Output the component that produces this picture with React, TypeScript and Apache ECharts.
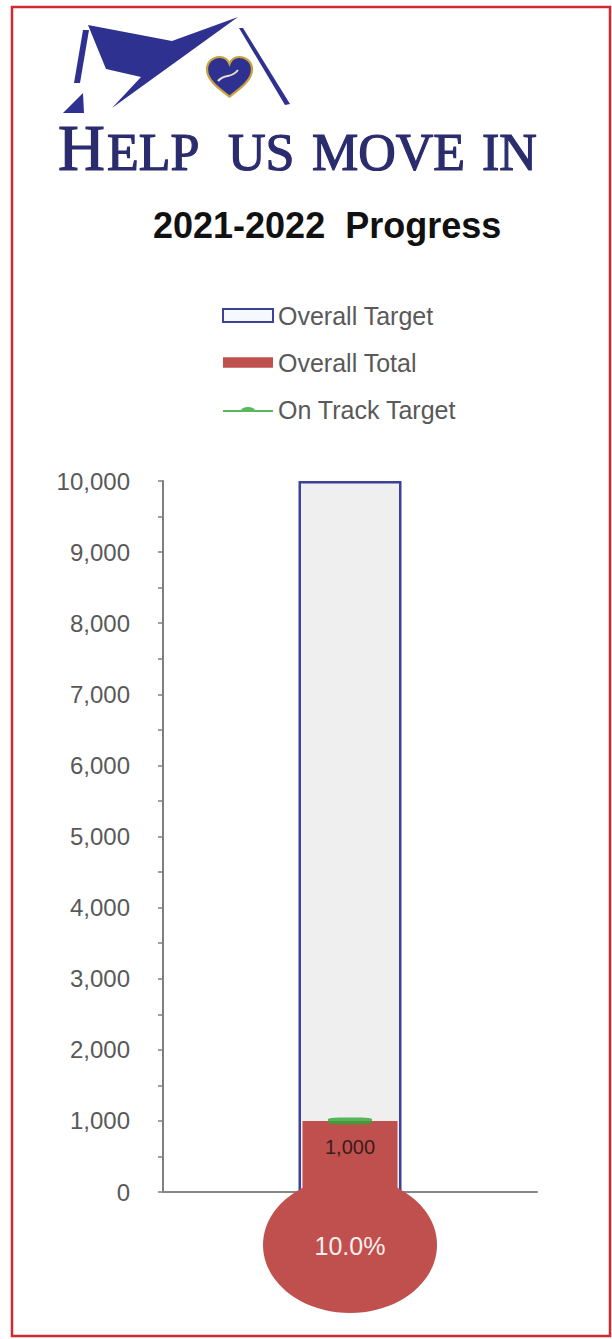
import React, { useEffect, useRef } from "react";
import * as echarts from "echarts";

// ---- data ----
const categories = ["2021-2022"];
const overallTarget = [10000];
const overallTotal = [1000];
const onTrackTarget = [1000];
const yTickValues = [0, 1000, 2000, 3000, 4000, 5000, 6000, 7000, 8000, 9000, 10000];
const legendNames = ["Overall Target", "Overall Total", "On Track Target"];
const titleText = "2021-2022  Progress";
const brandWords = [
  { big: "H", small: "ELP" },
  { big: "", small: "US" },
  { big: "", small: "MOVE" },
  { big: "", small: "IN" },
];

const SANS = '"Liberation Sans", Arial, sans-serif';
const SERIF = '"Liberation Serif", "DejaVu Serif", serif';
const NAVY = "#2f3190";
const TEXT_NAVY = "#2a2c6e";
const RED = "#c0504d";
const BLUE = "#3c4299";
const GREEN = "#2fa634";

const HEART =
  "M50,92 C22,70 0,52 0,29 C0,11 14,0 28,0 C40,0 47,8 50,16 C53,8 60,0 72,0 C86,0 100,11 100,29 C100,52 78,70 50,92 Z";

let registered = false;
function registerShapes() {
  if (registered) return;
  registered = true;
  echarts.graphic.registerShape("heart", echarts.graphic.extendPath(HEART, {}) as any);
}

function fmt(v: number) {
  return v.toLocaleString("en-US");
}

function staticGraphics(): any[] {
  const wordX = [58, 228, 312, 482];
  const bigF = 65;
  const smallF = 52;
  const base = 170;
  const texts: any[] = [];
  brandWords.forEach((w, i) => {
    let x = wordX[i];
    if (w.big) {
      texts.push({
        type: "text",
        x,
        y: base - 0.3375 * bigF,
        style: {
          text: w.big, fontSize: bigF, fontFamily: SERIF, fill: TEXT_NAVY,
          stroke: TEXT_NAVY, lineWidth: 1.2, verticalAlign: "middle", align: "left",
        },
        z: 10,
      });
      x += 49;
    }
    texts.push({
      type: "text",
      x,
      y: base - 0.3375 * smallF,
      style: {
        text: w.small, fontSize: smallF, fontFamily: SERIF, fill: TEXT_NAVY,
        stroke: TEXT_NAVY, lineWidth: 1.2, verticalAlign: "middle", align: "left",
      },
      z: 10,
    });
  });
  return [
    {
      type: "rect",
      shape: { x: 12, y: 7, width: 598, height: 1329 },
      style: { fill: "none", stroke: "#d3282f", lineWidth: 2.5 },
      z: 20,
    },
    // logo
    { type: "polygon", shape: { points: [[83, 30], [89, 30], [80, 83], [74, 83]] }, style: { fill: NAVY }, z: 10 },
    { type: "polygon", shape: { points: [[63, 113], [83, 93], [84, 113]] }, style: { fill: NAVY }, z: 10 },
    {
      type: "polygon",
      shape: { points: [[88, 25], [172, 41], [238, 17], [112, 108], [141, 77], [106, 69]] },
      style: { fill: NAVY },
      z: 10,
    },
    {
      type: "polygon",
      shape: { points: [[239, 28], [243, 28], [290, 104], [285, 105]] },
      style: { fill: NAVY },
      z: 10,
    },
    {
      type: "heart",
      x: 207,
      y: 57,
      scaleX: 0.45,
      scaleY: 0.43,
      style: { fill: NAVY, stroke: "#c9a23a", lineWidth: 5 },
      z: 11,
    },
    {
      type: "bezierCurve",
      shape: { x1: 218, y1: 81, x2: 238, y2: 70, cpx1: 226, cpy1: 72, cpx2: 230, cpy2: 80 },
      style: { stroke: "#e8e2d0", lineWidth: 2, fill: "none" },
      z: 12,
    },
    ...texts,
  ];
}

export default function App() {
  const ref = useRef<HTMLDivElement>(null);
  useEffect(() => {
    if (!ref.current) return;
    registerShapes();
    const chart = echarts.init(ref.current, undefined, { renderer: "svg" });
    const option: any = {
      animation: false,
      backgroundColor: "#ffffff",
      title: {
        text: titleText,
        left: 148,
        top: 202,
        textStyle: { fontFamily: SANS, fontSize: 36, fontWeight: "bold", color: "#111111", lineHeight: 36 },
      },
      legend: {
        orient: "vertical",
        left: 217,
        top: 298,
        itemWidth: 50,
        itemHeight: 13,
        itemGap: 22,
        textStyle: { fontFamily: SANS, fontSize: 25, color: "#595959", lineHeight: 25 },
        data: [
          {
            name: legendNames[0],
            icon: "rect",
            itemStyle: { color: "#f3f9fc", borderColor: BLUE, borderWidth: 2 },
          },
          { name: legendNames[1], icon: "path://M0,0H48V10H0Z" },
          {
            name: legendNames[2],
            icon: "path://M0,5H18C20,1 30,1 32,5H50V7H0Z",
          },
        ],
      },
      grid: { left: 163, right: 75, top: 481, bottom: 147, containLabel: false },
      xAxis: [
        {
          type: "category",
          data: categories,
          axisLine: { lineStyle: { color: "#868686", width: 2 } },
          axisTick: { show: false },
          axisLabel: { show: false },
        },
        {
          type: "category",
          data: categories,
          show: false,
        },
      ],
      yAxis: {
        type: "value",
        min: yTickValues[0],
        max: yTickValues[yTickValues.length - 1],
        interval: yTickValues[1] - yTickValues[0],
        axisLine: { show: true, lineStyle: { color: "#7f7f7f", width: 2 } },
        axisTick: { show: true, length: 5, lineStyle: { color: "#7f7f7f", width: 1.5 } },
        minorTick: { show: true, splitNumber: 2, length: 5, lineStyle: { color: "#7f7f7f", width: 1.5 } },
        splitLine: { show: false },
        axisLabel: {
          margin: 33,
          fontFamily: SANS,
          fontSize: 24,
          color: "#595959",
          formatter: (v: number) => fmt(v),
        },
      },
      series: [
        {
          name: legendNames[0],
          type: "bar",
          xAxisIndex: 0,
          data: overallTarget,
          barWidth: 103,
          itemStyle: { color: "#efefef", borderColor: BLUE, borderWidth: 2.5 },
          z: 1,
        },
        {
          name: legendNames[1],
          type: "bar",
          xAxisIndex: 1,
          data: overallTotal,
          barWidth: 95,
          itemStyle: { color: RED },
          label: {
            show: true,
            position: "insideTop",
            distance: 16,
            fontFamily: SANS,
            fontSize: 20,
            color: "#3a1c1c",
            formatter: (p: any) => fmt(p.value),
          },
          z: 2,
        },
        {
          name: legendNames[2],
          type: "scatter",
          xAxisIndex: 0,
          data: onTrackTarget,
          symbol: "roundRect",
          symbolSize: [44, 7],
          itemStyle: { color: GREEN },
          z: 5,
        },
      ],
    };
    chart.setOption(option);
    const p = chart.convertToPixel({ seriesIndex: 1 }, [0, 0]) as number[];
    const cx = p[0];
    const y0 = p[1];
    const pct = ((overallTotal[0] / overallTarget[0]) * 100).toFixed(1) + "%";
    chart.setOption({
      graphic: [
        ...staticGraphics(),
        {
          type: "ellipse",
          shape: { cx, cy: y0 + 53, rx: 87, ry: 68 },
          style: { fill: RED },
          z: 30,
        },
        {
          type: "text",
          x: cx,
          y: y0 + 54,
          style: {
            text: pct,
            fontFamily: SANS,
            fontSize: 25,
            fill: "#fbeeee",
            align: "center",
            verticalAlign: "middle",
          },
          z: 31,
        },
      ],
    });
    return () => chart.dispose();
  }, []);
  return (
    <div
      ref={ref}
      style={{ position: "absolute", left: 0, top: 0, width: 612, height: 1339, background: "#fff" }}
    />
  );
}
